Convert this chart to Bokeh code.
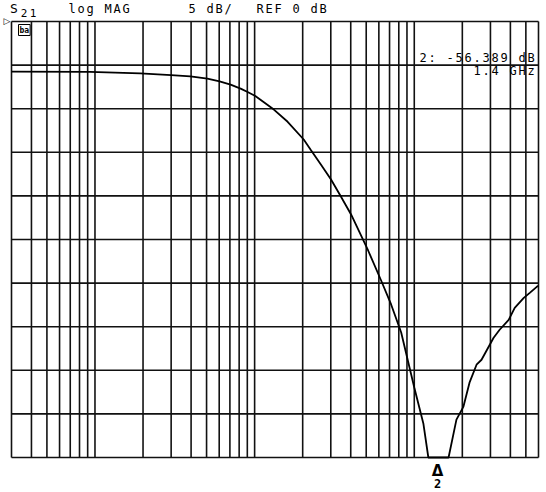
import math
from bokeh.plotting import figure
from bokeh.models import Label, Range1d
from bokeh.embed import file_html
from bokeh.resources import INLINE

# Trace of S21 (log MAG), frequency in MHz, magnitude in dB
freq_mhz = [3, 9.3, 19.2, 30, 39.6, 50.6, 60.3, 70.7, 81.7, 90.4, 101, 132, 161,
            203, 225, 260, 301, 347, 402, 514, 620, 716, 828, 1000, 1140, 1225,
            1300, 1400, 1520, 1640, 1837, 2033, 2218, 2455, 2638, 3140, 3425,
            3902, 4257, 4852, 5289, 5849, 6000]
s21_db = [-5.74, -5.78, -5.96, -6.14, -6.29, -6.56, -6.87, -7.24, -7.70, -8.09,
          -8.55, -10.1, -11.5, -13.53, -14.74, -16.40, -18.12, -20.07, -22.13,
          -26.26, -29.70, -32.45, -35.67, -41.97, -46.1, -50.0, -53.5, -56.389,
          -53.5, -50.0, -45.65, -44.16, -41.42, -39.36, -38.79, -36.27, -35.35,
          -34.21, -32.84, -31.69, -31.12, -30.43, -30.3]

freq_grid_mhz = [3, 4, 5, 6, 7, 8, 9, 10, 20, 30, 40, 50, 60, 70, 80, 90,
                 100, 200, 300, 400, 500, 600, 700, 800, 900, 1000, 2000,
                 3000, 4000, 5000, 6000]
db_grid = [0, -5, -10, -15, -20, -25, -30, -35, -40, -45, -50]

freq_start, freq_stop = 3, 6000
db_top, db_bottom = 0, -50
marker_freq_mhz = 1400
marker_text = "2: -56.389 dB"
marker_freq_text = "1.4 GHz"
header_param = "S"
header_sub = "21"
header_format = "log MAG"
header_scale = "5 dB/"
header_ref = "REF 0 dB"

FONT = "DejaVu Sans Mono"

# layout (pixels)
W, H = 546, 492
pad_l, pad_r, pad_t, pad_b = 11, 8, 21, 35
gw = W - pad_l - pad_r
gh = H - pad_t - pad_b
decades = math.log10(freq_stop / freq_start)
px_per_dec = gw / decades
px_per_db = gh / (db_top - db_bottom)
x0 = freq_start * 10 ** (-pad_l / px_per_dec)
x1 = freq_stop * 10 ** (pad_r / px_per_dec)
y1 = db_top + pad_t / px_per_db
y0 = db_bottom - pad_b / px_per_db
TXT_DY = 5  # compensation of label baseline placement

p = figure(width=W, height=H, x_axis_type="log",
           x_range=Range1d(x0, x1), y_range=Range1d(y0, y1),
           output_backend="svg", toolbar_location=None,
           x_axis_location=None, y_axis_location=None,
           min_border=0)
p.outline_line_color = None
p.background_fill_color = "white"
p.border_fill_color = "white"
p.xgrid.visible = False
p.ygrid.visible = False

# graticule
p.segment(x0=freq_grid_mhz, x1=freq_grid_mhz,
          y0=[db_bottom] * len(freq_grid_mhz), y1=[db_top] * len(freq_grid_mhz),
          line_color="#111111", line_width=1.6)
p.segment(x0=[freq_start] * len(db_grid), x1=[freq_stop] * len(db_grid),
          y0=db_grid, y1=db_grid, line_color="#111111", line_width=1.6)

# trace (pinned to the bottom of the graticule, as the analyzer plots it)
trace_db = [max(v, db_bottom) for v in s21_db]
p.line(freq_mhz, trace_db, line_color="black", line_width=1.8)


def lab(x, y_px, text, size="12px", align="left", font=FONT, style="normal",
        baseline="alphabetic", xu="screen", dy=TXT_DY, **kw):
    p.add_layout(Label(x=x, y=H - y_px + dy, x_units=xu, y_units="screen",
                       text=text, text_font=font, text_font_size=size,
                       text_align=align, text_font_style=style,
                       text_baseline=baseline, text_color="black", **kw))


def plotter_text(text, x_left, y_base, adv=9.0, size="12px"):
    """Place each character on a fixed pitch, like the pen-plotter font."""
    for i, ch in enumerate(text):
        if ch != " ":
            lab(x_left + adv * i + adv / 2, y_base, ch, size=size, align="center")


# header
plotter_text(header_param, 9, 13, size="13px")
plotter_text(header_sub, 19, 17, size="11px")
plotter_text(header_format, 67, 13)
plotter_text(header_scale, 187, 13)
plotter_text(header_ref, 255, 13)

# reference marker and channel box
lab(3, 20, "▷", size="9px", font="DejaVu Sans", baseline="middle", dy=0)
lab(18, 35, "ba", size="8px", style="bold", baseline="bottom", dy=0,
    border_line_color="black", border_line_width=1, padding=1)

# marker readout (right aligned at the graticule edge)
plotter_text(marker_text, 535 - 9 * len(marker_text), 62)
plotter_text(marker_freq_text, 535 - 9 * len(marker_freq_text), 75)

# marker symbol below the graticule
lab(marker_freq_mhz, 477, "Δ", size="15px", align="center", font="DejaVu Sans",
    style="bold", xu="data", dy=7)
lab(marker_freq_mhz, 489, "2", size="12px", align="center", style="bold",
    xu="data", dy=6)

open("out.html", "w").write(file_html(p, INLINE))
